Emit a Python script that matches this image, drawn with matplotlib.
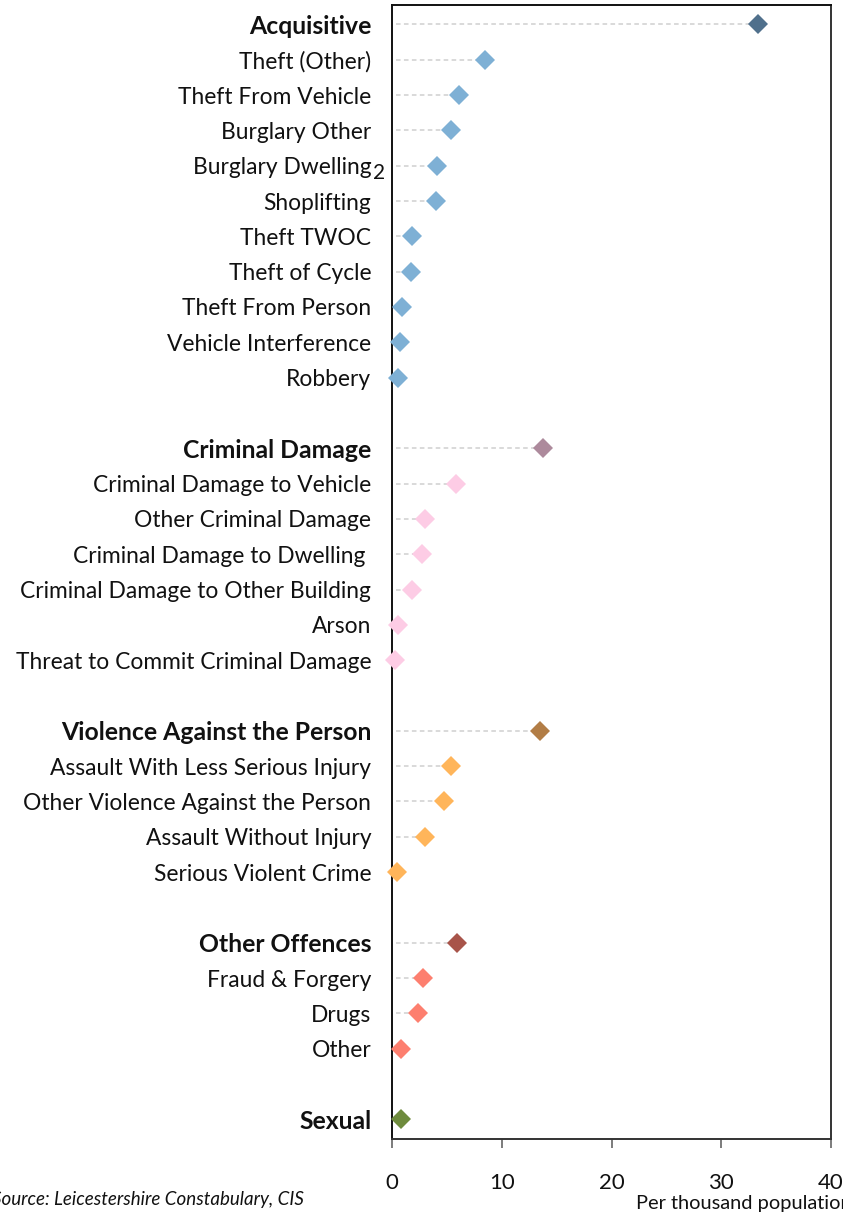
import matplotlib
matplotlib.use("Agg")
import matplotlib.pyplot as plt

plt.rcParams['font.family'] = ['Lato', 'DejaVu Sans']

# ---- data ----
acq_labels = ["Acquisitive", "Theft (Other)", "Theft From Vehicle", "Burglary Other",
              "Burglary Dwelling", "Shoplifting", "Theft TWOC", "Theft of Cycle",
              "Theft From Person", "Vehicle Interference", "Robbery"]
acq_values = [33.35, 8.47, 6.07, 5.41, 4.13, 4.0, 1.82, 1.70, 0.94, 0.70, 0.58]

cd_labels = ["Criminal Damage", "Criminal Damage to Vehicle", "Other Criminal Damage",
             "Criminal Damage to Dwelling ", "Criminal Damage to Other Building", "Arson",
             "Threat to Commit Criminal Damage"]
cd_values = [13.8, 5.8, 2.98, 2.73, 1.85, 0.58, 0.30]

vap_labels = ["Violence Against the Person", "Assault With Less Serious Injury",
              "Other Violence Against the Person", "Assault Without Injury",
              "Serious Violent Crime"]
vap_values = [13.45, 5.41, 4.77, 2.98, 0.43]

oth_labels = ["Other Offences", "Fraud & Forgery", "Drugs", "Other"]
oth_values = [5.92, 2.85, 2.37, 0.82]

sex_labels = ["Sexual"]
sex_values = [0.82]

groups = [
    (acq_labels, acq_values, "#50708c", "#7eb0d5"),
    (cd_labels, cd_values, "#ad8a9c", "#fdcce5"),
    (vap_labels, vap_values, "#b27d46", "#ffb55a"),
    (oth_labels, oth_values, "#a8544a", "#fd7f6f"),
    (sex_labels, sex_values, "#6e8b3d", "#6e8b3d"),
]

x_ticks = [0, 10, 20, 30, 40]

W, H = 843, 1214
fig = plt.figure(figsize=(W / 100, H / 100), dpi=100)
ax = fig.add_axes([392 / W, (H - 1138.7) / H, 439 / W, 1133.7 / H])

ytick_pos, ytick_lab, bold_flags = [], [], []
pos = 0
for labels, values, head_col, sub_col in groups:
    for i, (lab, val) in enumerate(zip(labels, values)):
        col = head_col if i == 0 else sub_col
        ax.plot([0.4, val], [pos, pos], color="#d0d0d0", lw=1.1,
                dashes=(3, 2.2), zorder=1)
        ax.plot([val], [pos], marker="D", markersize=10.6, color=col,
                markeredgewidth=0, zorder=3, clip_on=False)
        ytick_pos.append(pos)
        ytick_lab.append(lab)
        bold_flags.append(i == 0)
        pos += 1
    pos += 1
last = pos - 2

ax.set_xlim(0, 40)
ax.set_ylim(last + 0.55, -0.55)
ax.set_xticks(x_ticks)
ax.set_xticklabels([str(t) for t in x_ticks])
ax.set_yticks(ytick_pos)
ax.set_yticklabels(ytick_lab)
for tl, b in zip(ax.get_yticklabels(), bold_flags):
    tl.set_color("#111111")
    if b:
        tl.set_fontweight("bold")
        tl.set_fontsize(17.8)
    else:
        tl.set_fontsize(16.4)
ax.tick_params(axis="y", length=0, pad=15)
ax.tick_params(axis="x", length=6.5, width=1.2, color="#666666", direction="out",
               pad=18, labelsize=16, labelcolor="#111111")

for side in ["left", "top"]:
    ax.spines[side].set_color("#111111")
    ax.spines[side].set_linewidth(1.4)
for side in ["right", "bottom"]:
    ax.spines[side].set_color("#333333")
    ax.spines[side].set_linewidth(1.4)

# footnote marker next to "Burglary Dwelling"
fig.text(379 / W, 1 - 173 / H, "2", fontsize=15, ha="center", va="center", color="#111111")

fig.text(304 / W, 1 - 1199 / H, "Source: Leicestershire Constabulary, CIS",
         fontsize=13.5, style="italic", ha="right", va="center", color="#111111")
fig.text(636 / W, 1 - 1204 / H, "Per thousand population", fontsize=14.4,
         ha="left", va="center", color="#111111")

fig.savefig("out.png", dpi=100)
